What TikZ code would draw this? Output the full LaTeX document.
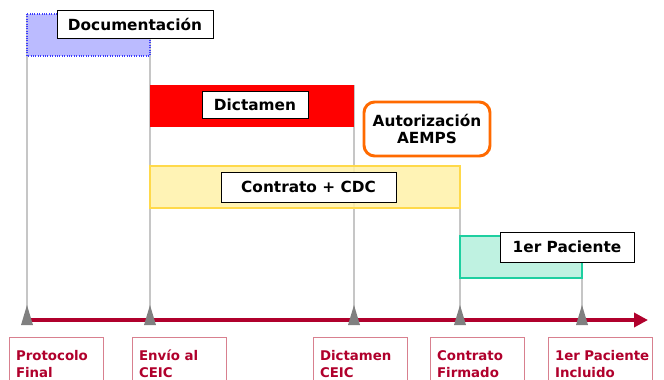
\documentclass[tikz,border=0pt]{standalone}
\usepackage{fontspec}
\setmainfont{DejaVu Sans}
\usepackage{xcolor}
\usetikzlibrary{arrows.meta}

\definecolor{hitored}{HTML}{B0002C}
\definecolor{hitoborde}{HTML}{D8808F}
\definecolor{docblue}{HTML}{B4B4FF}
\definecolor{docborde}{HTML}{3C3CFF}
\definecolor{cdcyellow}{HTML}{FFF1A8}
\definecolor{cdcborde}{HTML}{FFD94A}
\definecolor{pacteal}{HTML}{B4F0DC}
\definecolor{pacborde}{HTML}{1ECFA0}
\definecolor{aemps}{HTML}{FF6A00}

\tikzset{
  etiqueta/.style={draw=black, fill=white, line width=0.6pt, inner sep=0pt,
    font=\bfseries\fontsize{11.5}{13}\selectfont},
  hito/.style={draw=hitoborde, line width=0.6pt, anchor=north west, align=left,
    inner xsep=5pt, inner ysep=4.5pt, minimum height=40pt, text=hitored,
    font=\bfseries\fontsize{10}{13}\selectfont},
  guia/.style={draw=gray!45, line width=1pt}
}

\begin{document}
\begin{tikzpicture}[x=0.75pt, y=-0.75pt]
    \useasboundingbox (0,0) rectangle (664,379);
    \clip (0,0) rectangle (664,379);

    % timeline ticks
    \coordinate (t1) at (27,320);
    \coordinate (t2) at (150,320);
    \coordinate (t3) at (354,320);
    \coordinate (t4) at (460,320);
    \coordinate (t5) at (582,320);

    % guide lines
    \draw[guia] (27,14) -- (t1);
    \draw[guia] (150,14) -- (t2);
    \draw[guia] (354,85) -- (t3);
    \draw[guia] (460,166) -- (t4);
    \draw[guia] (582,236) -- (t5);

    % bars
    \draw[fill=docblue, fill opacity=0.9, draw=docborde, densely dotted, line width=0.8pt] (27,14) rectangle (150,56);
    \fill[red] (150,85) rectangle (354,127);
    \draw[fill=cdcyellow, fill opacity=0.85, draw=cdcborde, line width=0.8pt] (150,166) rectangle (460,208);
    \draw[fill=pacteal, fill opacity=0.85, draw=pacborde, line width=0.8pt] (460,236) rectangle (582,278);

    % bar labels
    \node[etiqueta, minimum width=117pt, minimum height=21pt] (doc) at (135,24) {Documentación};
    \node[etiqueta, minimum width=79.5pt, minimum height=20.25pt] (dict) at (255,104.5) {Dictamen};
    \node[etiqueta, minimum width=131.25pt, minimum height=22.5pt] (cdc) at (308.5,187) {Contrato + CDC};
    \node[etiqueta, minimum width=100.5pt, minimum height=22.5pt] (pac) at (567,247) {1er Paciente};
    \node[etiqueta, draw=aemps, line width=2.2pt, rounded corners=8pt, align=center,
          minimum width=94.5pt, minimum height=40.5pt] (aemps) at (427,129) {Autorización\\AEMPS};

    % timeline
    \draw[hitored, line width=3.6pt, -{Triangle[length=10.5pt, width=10.5pt]}] (t1) -- (648,320);
    \foreach \t in {t1,t2,t3,t4,t5}
        \fill[gray] (\t) ++(-6,5) -- ++(12,0) -- ++(-6,-20) -- cycle;

    % milestones
    \node[hito, text width=60.5pt] (m1) at (9,337) {Protocolo\\Final};
    \node[hito, text width=60.5pt] (m2) at (132,337) {Envío al\\CEIC};
    \node[hito, text width=60.5pt] (m3) at (313,337) {Dictamen\\CEIC};
    \node[hito, text width=60.5pt] (m4) at (430,337) {Contrato\\Firmado};
    \node[hito, text width=68pt] (m5) at (548,337) {\mbox{1er Paciente}\\Incluido};
\end{tikzpicture}
\end{document}
